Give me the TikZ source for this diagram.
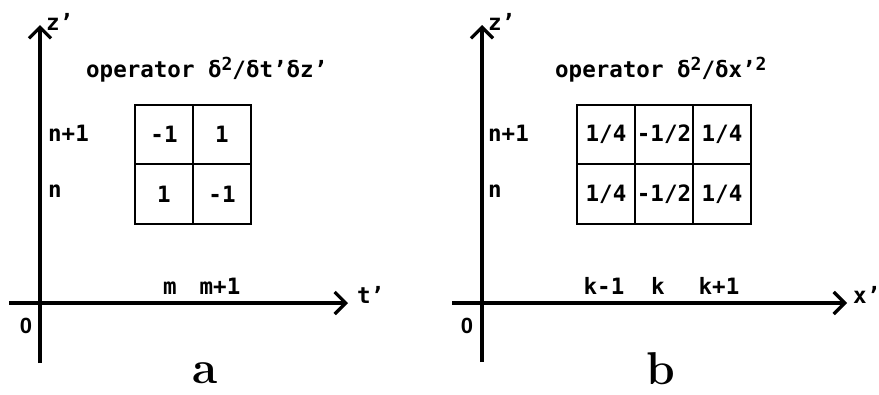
\documentclass[tikz,border=0pt]{standalone}
\usepackage{fontspec}
\newfontfamily\plotfont{DejaVu Sans Mono}
\newfontfamily\zerofont{Liberation Sans}
\usetikzlibrary{arrows.meta, positioning}
\newcommand{\sqtwo}{\raisebox{7pt}{\fontsize{18}{18}\selectfont 2}}

\begin{document}
\begin{tikzpicture}[x=1pt,y=-1pt,
    lbl/.style={font=\plotfont\bfseries\fontsize{22.5}{24}\selectfont, inner sep=0pt},
    orig/.style={font=\zerofont\bfseries\fontsize{22}{24}\selectfont, inner sep=0pt},
    axis/.style={line width=3.2pt, -{Straight Barb[length=11pt,width=22pt]}},
    cell/.style={lbl, draw, line width=2.2pt, minimum width=58pt, minimum height=59.5pt, outer sep=0pt},
    panel/.style={font=\bfseries\fontsize{46}{46}\selectfont, inner sep=0pt}]
  \useasboundingbox (0,0) rectangle (879,394);

  % panel a
  \coordinate (a-bot) at (40,363);
  \coordinate (a-top) at (40,25);
  \coordinate (a-left) at (9,303);
  \coordinate (a-right) at (348,303);
  \draw[axis] (a-bot) -- (a-top);
  \draw[axis] (a-left) -- (a-right);
  \node[lbl, anchor=base west] (a-z) at (46,30) {z’};
  \node[lbl, anchor=base west] (a-t) at (357,303) {t’};
  \node[orig, anchor=base] (a-0) at (26,333) {0};
  \node[lbl, anchor=base west] (a-n1) at (48,141) {n+1};
  \node[lbl, anchor=base west] (a-n) at (48,197) {n};
  \node[lbl, anchor=base] (a-m) at (170,294) {m};
  \node[lbl, anchor=base] (a-m1) at (220,294) {m+1};
  \node[lbl, anchor=base west] (a-op) at (86,77) {operator δ\sqtwo/δt’δz’};
  \node[cell] (a11) at (164,134.5) {-1};
  \node[cell, right=0pt of a11] (a12) {1};
  \node[cell, below=0pt of a11] (a21) {1};
  \node[cell, right=0pt of a21] (a22) {-1};
  \node[panel, anchor=base] (a-lab) at (205,383) {a};

  % panel b
  \coordinate (b-bot) at (482,362);
  \coordinate (b-top) at (482,25);
  \coordinate (b-left) at (452,303);
  \coordinate (b-right) at (847,303);
  \draw[axis] (b-bot) -- (b-top);
  \draw[axis] (b-left) -- (b-right);
  \node[lbl, anchor=base west] (b-z) at (488,30) {z’};
  \node[lbl, anchor=base west] (b-x) at (853,303) {x’};
  \node[orig, anchor=base] (b-0) at (467,333) {0};
  \node[lbl, anchor=base west] (b-n1) at (488,141) {n+1};
  \node[lbl, anchor=base west] (b-n) at (488,197) {n};
  \node[lbl, anchor=base] (b-k0) at (604,294) {k-1};
  \node[lbl, anchor=base] (b-k1) at (658,294) {k};
  \node[lbl, anchor=base] (b-k2) at (719,294) {k+1};
  \node[lbl, anchor=base west] (b-op) at (555,77) {operator δ\sqtwo/δx’\sqtwo};
  \node[cell] (b11) at (606,134.5) {1/4};
  \node[cell, right=0pt of b11] (b12) {-1/2};
  \node[cell, right=0pt of b12] (b13) {1/4};
  \node[cell, below=0pt of b11] (b21) {1/4};
  \node[cell, right=0pt of b21] (b22) {-1/2};
  \node[cell, right=0pt of b22] (b23) {1/4};
  \node[panel, anchor=base] (b-lab) at (661,384) {b};
\end{tikzpicture}
\end{document}
